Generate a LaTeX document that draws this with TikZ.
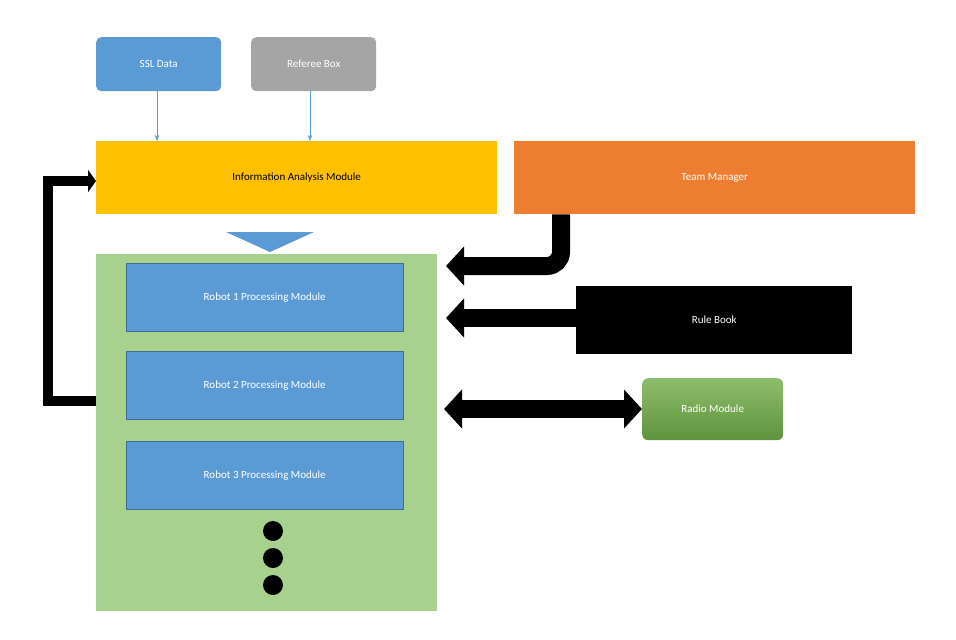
\documentclass[tikz,border=0pt]{standalone}
\usepackage{fontspec}
\setmainfont{Carlito}
\usetikzlibrary{arrows.meta,positioning,calc}
\definecolor{blueA}{HTML}{5B9BD5}
\definecolor{grayA}{HTML}{A5A5A5}
\definecolor{goldA}{HTML}{FFC000}
\definecolor{orangeA}{HTML}{ED7D31}
\definecolor{greenA}{HTML}{A9D18E}
\definecolor{greenB}{HTML}{70AD47}
\begin{document}
\begin{tikzpicture}[x=1pt,y=-1pt,
    every node/.style = {shape=rectangle, align=center, font=\fontsize{11}{13}\selectfont, inner sep=0pt},
    src/.style = {rounded corners=5pt, fill=#1, text=white, minimum width=125pt, minimum height=54pt, anchor=north west},
    bar/.style = {fill=#1, minimum width=401pt, minimum height=73pt, anchor=north west},
    robot/.style = {fill=blueA, draw=blueA!70!black, text=white, minimum width=277pt, minimum height=68pt, anchor=north west},
    dot/.style = {circle, fill=black, minimum size=20pt},
    thin/.style = {draw=blueA, -{Stealth[length=6pt]}},
    fat/.style = {line width=18pt, -{Triangle[width=38pt,length=18pt]}}
  ]
  \useasboundingbox (0,0) rectangle (956,640);
  \node[src=blueA] (ssl) at (96,37) {SSL Data};
  \node[src=grayA] (ref) at (251,37) {Referee Box};
  \node[bar=goldA] (info) at (96,141) {Information Analysis Module};
  \node[bar=orangeA, text=white] (team) at (514,141) {Team Manager};
  \node[fill=greenA, minimum width=341pt, minimum height=357pt, anchor=north west] (proc) at (96,254) {};
  \node[robot] (r1) at (126,263) {Robot 1 Processing Module};
  \node[robot] (r2) at (126,351) {Robot 2 Processing Module};
  \node[robot] (r3) at (126,441) {Robot 3 Processing Module};
  \node[dot] (d1) at (273,531) {};
  \node[dot] (d2) at (273,558) {};
  \node[dot] (d3) at (273,585) {};
  \node[fill=black, text=white, minimum width=276pt, minimum height=68pt, anchor=north west] (rule) at (576,286) {Rule Book};
  \node[rounded corners=6pt, top color=greenB!80!white, bottom color=greenB!85!black, text=white, minimum width=141pt, minimum height=62pt, anchor=north west] (radio) at (642,378) {Radio Module};
  % inputs
  \draw[thin] (ssl.south -| 157,0) -- (info.north -| 157,0);
  \draw[thin] (ref.south -| 310,0) -- (info.north -| 310,0);
  % big down arrow
  \fill[blueA] (226,232) -- (314,232) -- (270,252) -- cycle;
  % feedback loop
  \draw[line width=10pt, -{Triangle[width=22pt,length=8pt]}] (proc.west |- 0,401) -- (48,401) -- (48,181) -- (info.west |- 0,181);
  % team manager
  \draw[fat, rounded corners=14pt] (team.south -| 561,0) -- (561,266) -- (446,266);
  % rule book
  \draw[fat] (rule.west |- 0,318) -- (446,318);
  % radio
  \draw[line width=18pt, {Triangle[width=38pt,length=18pt]}-{Triangle[width=38pt,length=18pt]}] (444,409) -- (radio.west |- 0,409);
\end{tikzpicture}
\end{document}
